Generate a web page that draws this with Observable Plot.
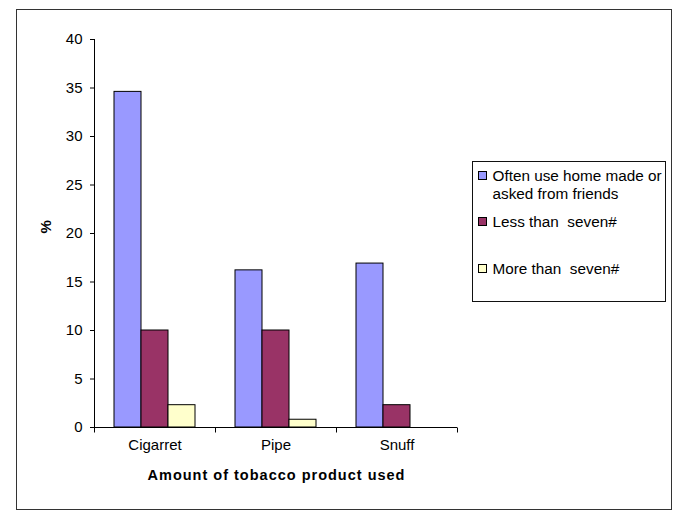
<!DOCTYPE html>
<html>
<head>
<meta charset="utf-8">
<script src="https://cdn.jsdelivr.net/npm/d3@7"></script>
<script src="https://cdn.jsdelivr.net/npm/@observablehq/plot@0.6"></script>
<style>
  html, body { margin: 0; padding: 0; background: #fff; }
  #wrap { position: relative; width: 685px; height: 527px; font-family: "Liberation Sans", Arial, sans-serif; }
  #wrap svg { position: absolute; left: 0; top: 0; }
  .outer { position: absolute; left: 16px; top: 9px; width: 654px; height: 499px; border: 1.5px solid #333; }
  .legbox { position: absolute; left: 472px; top: 161px; width: 192px; height: 139px; border: 1.3px solid #111; }
  .item { position: absolute; left: 478px; font-size: 15.3px; line-height: 18.3px; color: #000; white-space: nowrap; }
  .sw { position: absolute; left: 0; width: 7px; height: 7px; border: 1px solid #000; }
  .txt { position: absolute; left: 14.5px; top: 0; }
</style>
</head>
<body>
<div id="wrap">
  <div class="outer"></div>
  <div class="legbox"></div>
</div>
<script>
const categories = ["Cigarret", "Pipe", "Snuff"];
const seriesNames = ["Often use home made or asked from friends", "Less than  seven#", "More than  seven#"];
const oftenHomeMade = [34.6, 16.2, 16.9];
const lessThanSeven = [10, 10, 2.3];
const moreThanSeven = [2.3, 0.8, null];
const seriesColors = ["#9999FF", "#993366", "#FFFFCC"];
const yTicks = [0, 5, 10, 15, 20, 25, 30, 35, 40];
const yLabel = "%";
const xTitle = "Amount of tobacco product used";

const seriesValues = [oftenHomeMade, lessThanSeven, moreThanSeven];
const rows = [];
categories.forEach((c, i) => {
  seriesNames.forEach((s, j) => {
    const v = seriesValues[j][i];
    if (v != null) rows.push({category: c, series: s, value: v});
  });
});

const tickSymbol = { draw(context) { context.moveTo(0, 0); context.lineTo(0, 5); } };

const chart = Plot.plot({
  width: 685,
  height: 527,
  marginLeft: 93,
  marginRight: 228,
  marginTop: 39,
  marginBottom: 100,
  style: { fontFamily: "'Liberation Sans', Arial, sans-serif", fontSize: "15px", color: "#000", background: "transparent", overflow: "visible" },
  fx: { domain: categories, padding: 0, label: null, tickSize: 0, tickPadding: 12 },
  x: { domain: seriesNames, paddingInner: 0, paddingOuter: 0.74, axis: null },
  y: { domain: [0, 40], ticks: yTicks, tickSize: 4, tickPadding: 8, label: null },
  color: { domain: seriesNames, range: seriesColors },
  marks: [
    Plot.barY(rows, { fx: "category", x: "series", y: "value", fill: "series", stroke: "#000", strokeWidth: 1 }),
    Plot.ruleY([0], { stroke: "#000", strokeWidth: 1 }),
    Plot.frame({ anchor: "left", facet: "super", stroke: "#000", strokeWidth: 1 }),
    Plot.dot(categories, { fx: d => d, frameAnchor: "bottom-left", symbol: tickSymbol, stroke: "#000", fill: "none", strokeWidth: 1 }),
    Plot.dot(categories.slice(-1), { fx: d => d, frameAnchor: "bottom-right", symbol: tickSymbol, stroke: "#000", fill: "none", strokeWidth: 1 }),
    Plot.text([yLabel], { text: d => d, frameAnchor: "left", dx: -48, rotate: -90, fontWeight: "bold", fontSize: 15, facet: "super" }),
    Plot.text([xTitle], { text: d => d, frameAnchor: "bottom", dy: 52.5, dx: 0.5, fontWeight: "bold", fontSize: 14.5, facet: "super", className: "xtitle" })
  ]
});
d3.select(chart).selectAll(".xtitle text").attr("letter-spacing", "1px");
document.getElementById("wrap").appendChild(chart);

// legend (HTML)
const legendItems = [
  { lines: ["Often use home made or", "asked from friends"], top: 166.5 },
  { lines: ["Less than  seven#"], top: 213.3 },
  { lines: ["More than  seven#"], top: 259.6 }
];
const wrap = document.getElementById("wrap");
legendItems.forEach((it, i) => {
  const d = document.createElement("div");
  d.className = "item";
  d.style.top = it.top + "px";
  const sw = document.createElement("div");
  sw.className = "sw";
  sw.style.top = "4.2px";
  sw.style.background = seriesColors[i];
  d.appendChild(sw);
  const t = document.createElement("div");
  t.className = "txt";
  t.style.whiteSpace = "pre";
  t.textContent = it.lines.join("\n");
  d.appendChild(t);
  wrap.appendChild(d);
});
</script>
</body>
</html>
